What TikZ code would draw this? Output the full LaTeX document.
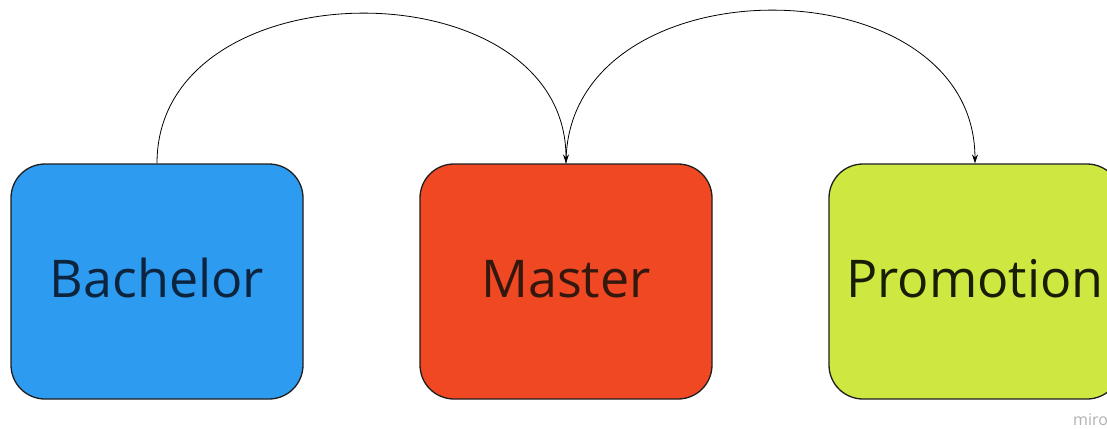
\documentclass[tikz,border=0pt]{standalone}
\usepackage{fontspec}
\setmainfont{Open Sans}
\usetikzlibrary{arrows.meta}
\definecolor{bblue}{RGB}{45,155,240}
\definecolor{bred}{RGB}{240,72,35}
\definecolor{bgreen}{RGB}{206,231,65}
\definecolor{tblue}{RGB}{12,36,62}
\definecolor{tred}{RGB}{52,24,14}
\definecolor{tgreen}{RGB}{24,30,6}
\definecolor{edge}{RGB}{30,30,30}
\tikzset{
  card/.style={draw=edge, line width=1.3pt, rounded corners=34pt,
    minimum width=292pt, minimum height=235pt, inner sep=0pt,
    text height=40pt, text depth=9pt,
    font=\fontsize{52}{60}\selectfont},
  link/.style={draw=black, line width=0.8pt, -{Stealth[length=9pt,width=6pt]}},
}
\begin{document}
\begin{tikzpicture}[x=1pt,y=-1pt]
\useasboundingbox (0,0) rectangle (1107,428);
\fill[white] (0,0) rectangle (1107,428);
\node[card, fill=bblue, text=tblue] (bach) at (157,281.5) {Bachelor};
\node[card, fill=bred, text=tred] (mast) at (566,281.5) {Master};
\node[card, fill=bgreen, text=tgreen] (prom) at (975,281.5) {Promotion};
\draw[link] (bach.north) .. controls (157,-36) and (566,-36) .. (mast.north);
\draw[link] (mast.north) .. controls (566,-40) and (974,-40) .. (prom.north);
\node[text=black!30, font=\fontsize{16}{18}\selectfont, anchor=base west, inner sep=0pt] (miro) at (1073,425) {miro};
\end{tikzpicture}
\end{document}
